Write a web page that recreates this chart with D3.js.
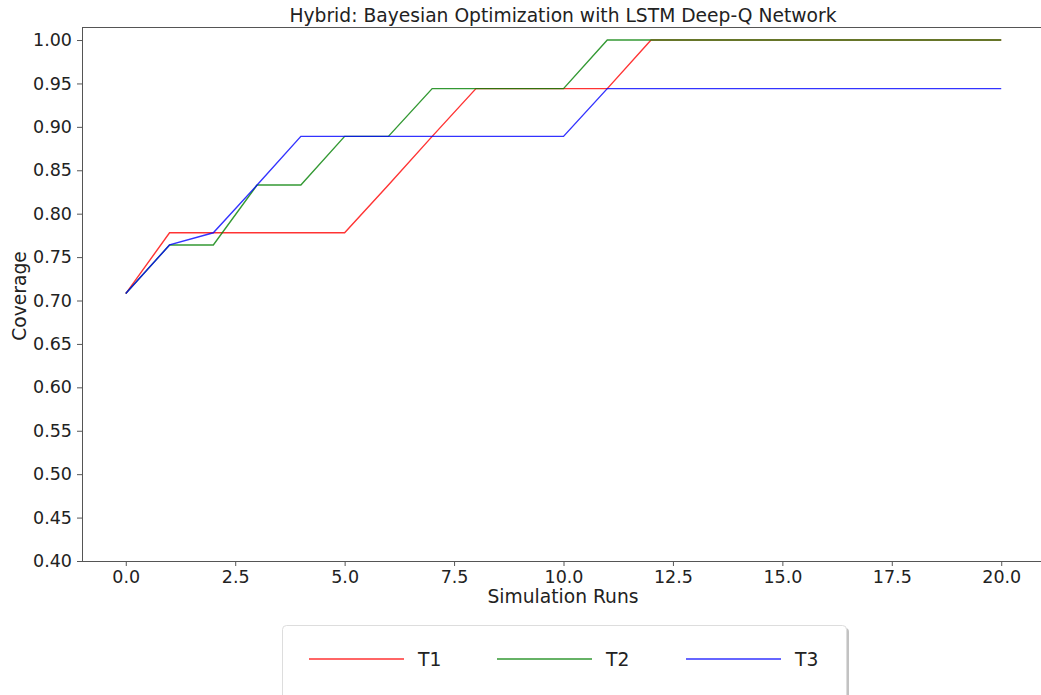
<!DOCTYPE html>
<html>
<head>
<meta charset="utf-8">
<script src="https://cdn.jsdelivr.net/npm/d3@7"></script>
<style>
  body { margin: 0; background: #fff; }
  svg { display: block; }
</style>
</head>
<body>
<svg id="chart" width="1041" height="695"></svg>
<script>
// ---- data ----
var runs = [0,1,2,3,4,5,6,7,8,9,10,11,12,13,14,15,16,17,18,19,20]
var t1 = [0.708,0.778,0.778,0.778,0.778,0.778,0.833,0.889,0.944,0.944,0.944,0.944,1.0,1.0,1.0,1.0,1.0,1.0,1.0,1.0,1.0]
var t2 = [0.708,0.764,0.764,0.833,0.833,0.889,0.889,0.944,0.944,0.944,0.944,1.0,1.0,1.0,1.0,1.0,1.0,1.0,1.0,1.0,1.0]
var t3 = [0.708,0.764,0.778,0.833,0.889,0.889,0.889,0.889,0.889,0.889,0.889,0.944,0.944,0.944,0.944,0.944,0.944,0.944,0.944,0.944,0.944]
var seriesNames = ["T1","T2","T3"]
var seriesColors = ["#ff0000","#008000","#0000ff"]
var xTicks = [0,2.5,5,7.5,10,12.5,15,17.5,20]
var yTicks = [0.40,0.45,0.50,0.55,0.60,0.65,0.70,0.75,0.80,0.85,0.90,0.95,1.00]

var allSeries = [t1,t2,t3]

function drawChart()
{
  var svg = d3.select("#chart")
  var font = "DejaVu Sans, sans-serif"

  var plotL = 82, plotR = 1045, plotT = 27, plotB = 561

  var xScale = d3.scaleLinear().domain([-1,21]).range([plotL,plotR])
  var yScale = d3.scaleLinear().domain([0.4,1.015]).range([plotB,plotT])

  //---axes---
  var xAxis = svg.append("g")
    .attr("transform","translate(0,"+plotB+")")
    .call(d3.axisBottom(xScale).tickValues(xTicks).tickFormat(d3.format(".1f")).tickSize(5).tickPadding(5))
  var yAxis = svg.append("g")
    .attr("transform","translate("+plotL+",0)")
    .call(d3.axisLeft(yScale).tickValues(yTicks).tickFormat(d3.format(".2f")).tickSize(5).tickPadding(5))

  ;[xAxis,yAxis].forEach(function(a){
    a.select(".domain").remove()
    a.selectAll("line").attr("stroke","#444").attr("stroke-width",0.9)
    a.selectAll("text").attr("font-family",font).attr("font-size","17.5px").attr("fill","#222")
  })

  //---spines---
  svg.append("rect")
    .attr("x",plotL+0.5).attr("y",plotT+0.5)
    .attr("width",plotR-plotL).attr("height",plotB-plotT)
    .attr("fill","none").attr("stroke","#555").attr("stroke-width",1)

  //---lines---
  var line = d3.line()
    .x(function(d,i){return xScale(runs[i])})
    .y(function(d){return yScale(d)})

  allSeries.forEach(function(s,k){
    svg.append("path")
      .datum(s)
      .attr("d",line)
      .attr("fill","none")
      .attr("stroke",seriesColors[k])
      .attr("stroke-opacity",0.8)
      .attr("stroke-width",1.4)
  })

  //---titles---
  svg.append("text")
    .attr("x",563).attr("y",22)
    .attr("text-anchor","middle")
    .attr("font-family",font).attr("font-size","18.7px").attr("fill","#222")
    .text("Hybrid: Bayesian Optimization with LSTM Deep-Q Network")

  svg.append("text")
    .attr("x",563).attr("y",603)
    .attr("text-anchor","middle")
    .attr("font-family",font).attr("font-size","18.7px").attr("fill","#222")
    .text("Simulation Runs")

  svg.append("text")
    .attr("transform","translate(26,296)rotate(-90)")
    .attr("text-anchor","middle")
    .attr("font-family",font).attr("font-size","18.7px").attr("fill","#222")
    .text("Coverage")

  //---legend---
  var legG = svg.append("g")
  legG.append("rect")
    .attr("x",285).attr("y",628).attr("width",564).attr("height",90)
    .attr("rx",4).attr("fill","#999").attr("fill-opacity",0.6)
  legG.append("rect")
    .attr("x",282.5).attr("y",625.5).attr("width",564).attr("height",90)
    .attr("rx",4).attr("fill","#fff").attr("stroke","#ddd").attr("stroke-width",1)

  var legX = [309,497,686]
  seriesNames.forEach(function(n,k){
    legG.append("line")
      .attr("x1",legX[k]).attr("x2",legX[k]+95)
      .attr("y1",659).attr("y2",659)
      .attr("stroke",seriesColors[k]).attr("stroke-opacity",0.8).attr("stroke-width",1.4)
    legG.append("text")
      .attr("x",legX[k]+109).attr("y",666)
      .attr("font-family",font).attr("font-size","18.7px").attr("fill","#222")
      .text(n)
  })
}

drawChart()
</script>
</body>
</html>
